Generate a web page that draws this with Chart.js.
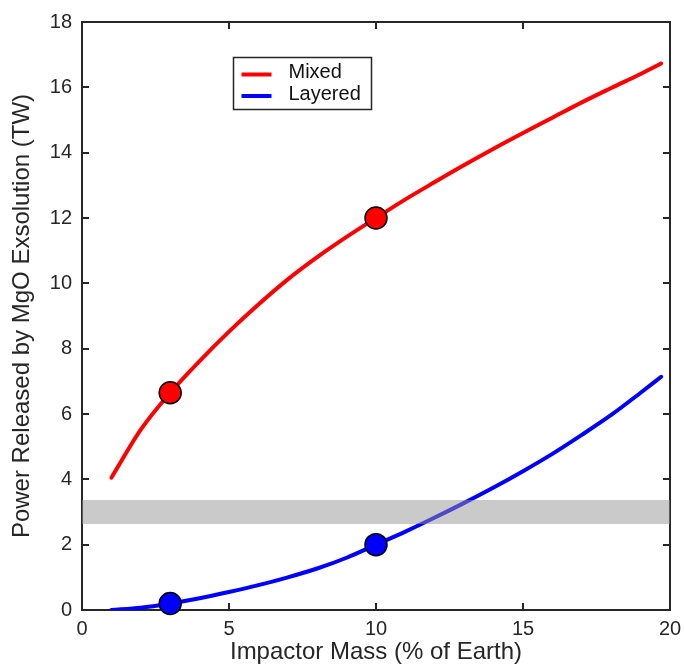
<!DOCTYPE html>
<html>
<head>
<meta charset="utf-8">
<script src="https://cdn.jsdelivr.net/npm/chart.js@4.4.1/dist/chart.umd.min.js"></script>
<style>
  body { margin: 0; background: #fff; }
  #wrap { width: 685px; height: 667px; }
</style>
</head>
<body>
<div id="wrap"><canvas id="myChart" width="685" height="667"></canvas></div>
<script>
// values
const impactorMass = [1, 2, 3, 4, 5, 6, 7, 8, 9, 10, 11, 12, 13, 14, 15, 16, 17, 18, 19, 19.7];
const mixedPower   = [4.05, 5.52, 6.65, 7.62, 8.52, 9.35, 10.12, 10.8, 11.42, 12.0, 12.57, 13.1, 13.62, 14.12, 14.6, 15.07, 15.54, 15.98, 16.41, 16.73];
const layeredPower = [0.0, 0.07, 0.2, 0.36, 0.55, 0.76, 1.0, 1.27, 1.6, 2.0, 2.4, 2.83, 3.28, 3.75, 4.25, 4.78, 5.36, 5.97, 6.65, 7.14];

const markerMass     = [3, 10];
const mixedMarkers   = [6.65, 12.0];
const layeredMarkers = [0.2, 2.0];

const bandMass = [0, 20];
const bandLow  = [2.63, 2.63];
const bandHigh = [3.37, 3.37];

const seriesNames = ["Mixed", "Layered"];
const xTitle = "Impactor Mass (% of Earth)";
const yTitle = "Power Released by MgO Exsolution (TW)";

const INK = "#262626";
const FONT = "'Liberation Sans', Arial, Helvetica, sans-serif";

function pts(xs, ys) {
    return xs.map((x, i) => ({ x: x, y: ys[i] }));
}

// frame with inward ticks on all four sides
const framePlugin = {
    id: "frame",
    beforeDatasetsDraw(chart) {
        const { ctx, chartArea: a, scales } = chart;
        ctx.save();
        ctx.strokeStyle = INK;
        ctx.lineWidth = 2;
        ctx.strokeRect(a.left, a.top, a.right - a.left, a.bottom - a.top);
        const tl = 7;
        ctx.beginPath();
        scales.x.ticks.forEach(t => {
            const px = Math.round(scales.x.getPixelForValue(t.value));
            ctx.moveTo(px, a.bottom); ctx.lineTo(px, a.bottom - tl);
            ctx.moveTo(px, a.top); ctx.lineTo(px, a.top + tl);
        });
        scales.y.ticks.forEach(t => {
            const py = Math.round(scales.y.getPixelForValue(t.value));
            ctx.moveTo(a.left, py); ctx.lineTo(a.left + tl, py);
            ctx.moveTo(a.right, py); ctx.lineTo(a.right - tl, py);
        });
        ctx.stroke();
        ctx.restore();
    }
};

// boxed legend in the upper left of the plot
const legendBoxPlugin = {
    id: "legendBox",
    afterDraw(chart) {
        const ctx = chart.ctx;
        const bx = 233.5, by = 57.5, bw = 138, bh = 52;
        ctx.save();
        ctx.fillStyle = "#fff";
        ctx.fillRect(bx, by, bw, bh);
        ctx.strokeStyle = INK;
        ctx.lineWidth = 1.5;
        ctx.strokeRect(bx, by, bw, bh);
        const lines = chart.data.datasets.filter(d => seriesNames.includes(d.label));
        lines.forEach((d, i) => {
            const y = by + 17 + i * 21.5;
            ctx.strokeStyle = d.borderColor;
            ctx.lineWidth = 4;
            ctx.beginPath();
            ctx.moveTo(bx + 8, y);
            ctx.lineTo(bx + 38, y);
            ctx.stroke();
            ctx.fillStyle = "#111";
            ctx.font = "20px " + FONT;
            ctx.textBaseline = "middle";
            ctx.fillText(d.label, bx + 55, y - 2);
        });
        ctx.restore();
    }
};

new Chart("myChart", {
    type: "scatter",
    data: {
        datasets: [
            { label: "Mixed marks", data: pts(markerMass, mixedMarkers), backgroundColor: "#ff0000", borderColor: "#000", borderWidth: 1.5, pointRadius: 11, order: 0, clip: false },
            { label: "Layered marks", data: pts(markerMass, layeredMarkers), backgroundColor: "#0000ff", borderColor: "#000", borderWidth: 1.5, pointRadius: 11, order: 0, clip: false },
            { label: "band top", data: pts(bandMass, bandHigh), showLine: true, borderWidth: 0, pointRadius: 0, fill: "+1", backgroundColor: "rgba(150,150,150,0.5)", order: 1 },
            { label: "band bottom", data: pts(bandMass, bandLow), showLine: true, borderWidth: 0, pointRadius: 0, fill: false, order: 1 },
            { label: seriesNames[0], data: pts(impactorMass, mixedPower), showLine: true, borderColor: "#ff0000", borderWidth: 4, borderCapStyle: "round", borderJoinStyle: "round", pointRadius: 0, cubicInterpolationMode: "monotone", order: 2 },
            { label: seriesNames[1], data: pts(impactorMass, layeredPower), showLine: true, borderColor: "#0000ff", borderWidth: 4, borderCapStyle: "round", borderJoinStyle: "round", pointRadius: 0, cubicInterpolationMode: "monotone", order: 2 }
        ]
    },
    options: {
        responsive: false,
        animation: false,
        events: [],
        layout: { padding: { top: 22, right: 15, left: 0, bottom: 0 } },
        plugins: {
            legend: { display: false },
            tooltip: { enabled: false }
        },
        scales: {
            x: {
                type: "linear",
                min: 0, max: 20,
                ticks: { stepSize: 5, color: INK, font: { family: FONT, size: 20 }, padding: 7, maxRotation: 0 },
                grid: { display: false, drawTicks: false },
                border: { display: false },
                title: { display: true, text: xTitle, color: INK, font: { family: FONT, size: 24 }, padding: { top: 0, bottom: 0 } },
                afterFit(scale) { scale.height = 57; scale.paddingLeft = 0; scale.paddingRight = 0; }
            },
            y: {
                type: "linear",
                min: 0, max: 18,
                ticks: { stepSize: 2, color: INK, font: { family: FONT, size: 20 }, padding: 10 },
                grid: { display: false, drawTicks: false },
                border: { display: false },
                title: { display: true, text: yTitle, color: INK, font: { family: FONT, size: 24 }, padding: { top: 8, bottom: 0 } },
                afterFit(scale) { scale.width = 82; scale.paddingTop = 0; scale.paddingBottom = 0; }
            }
        }
    },
    plugins: [framePlugin, legendBoxPlugin]
});
</script>
</body>
</html>
